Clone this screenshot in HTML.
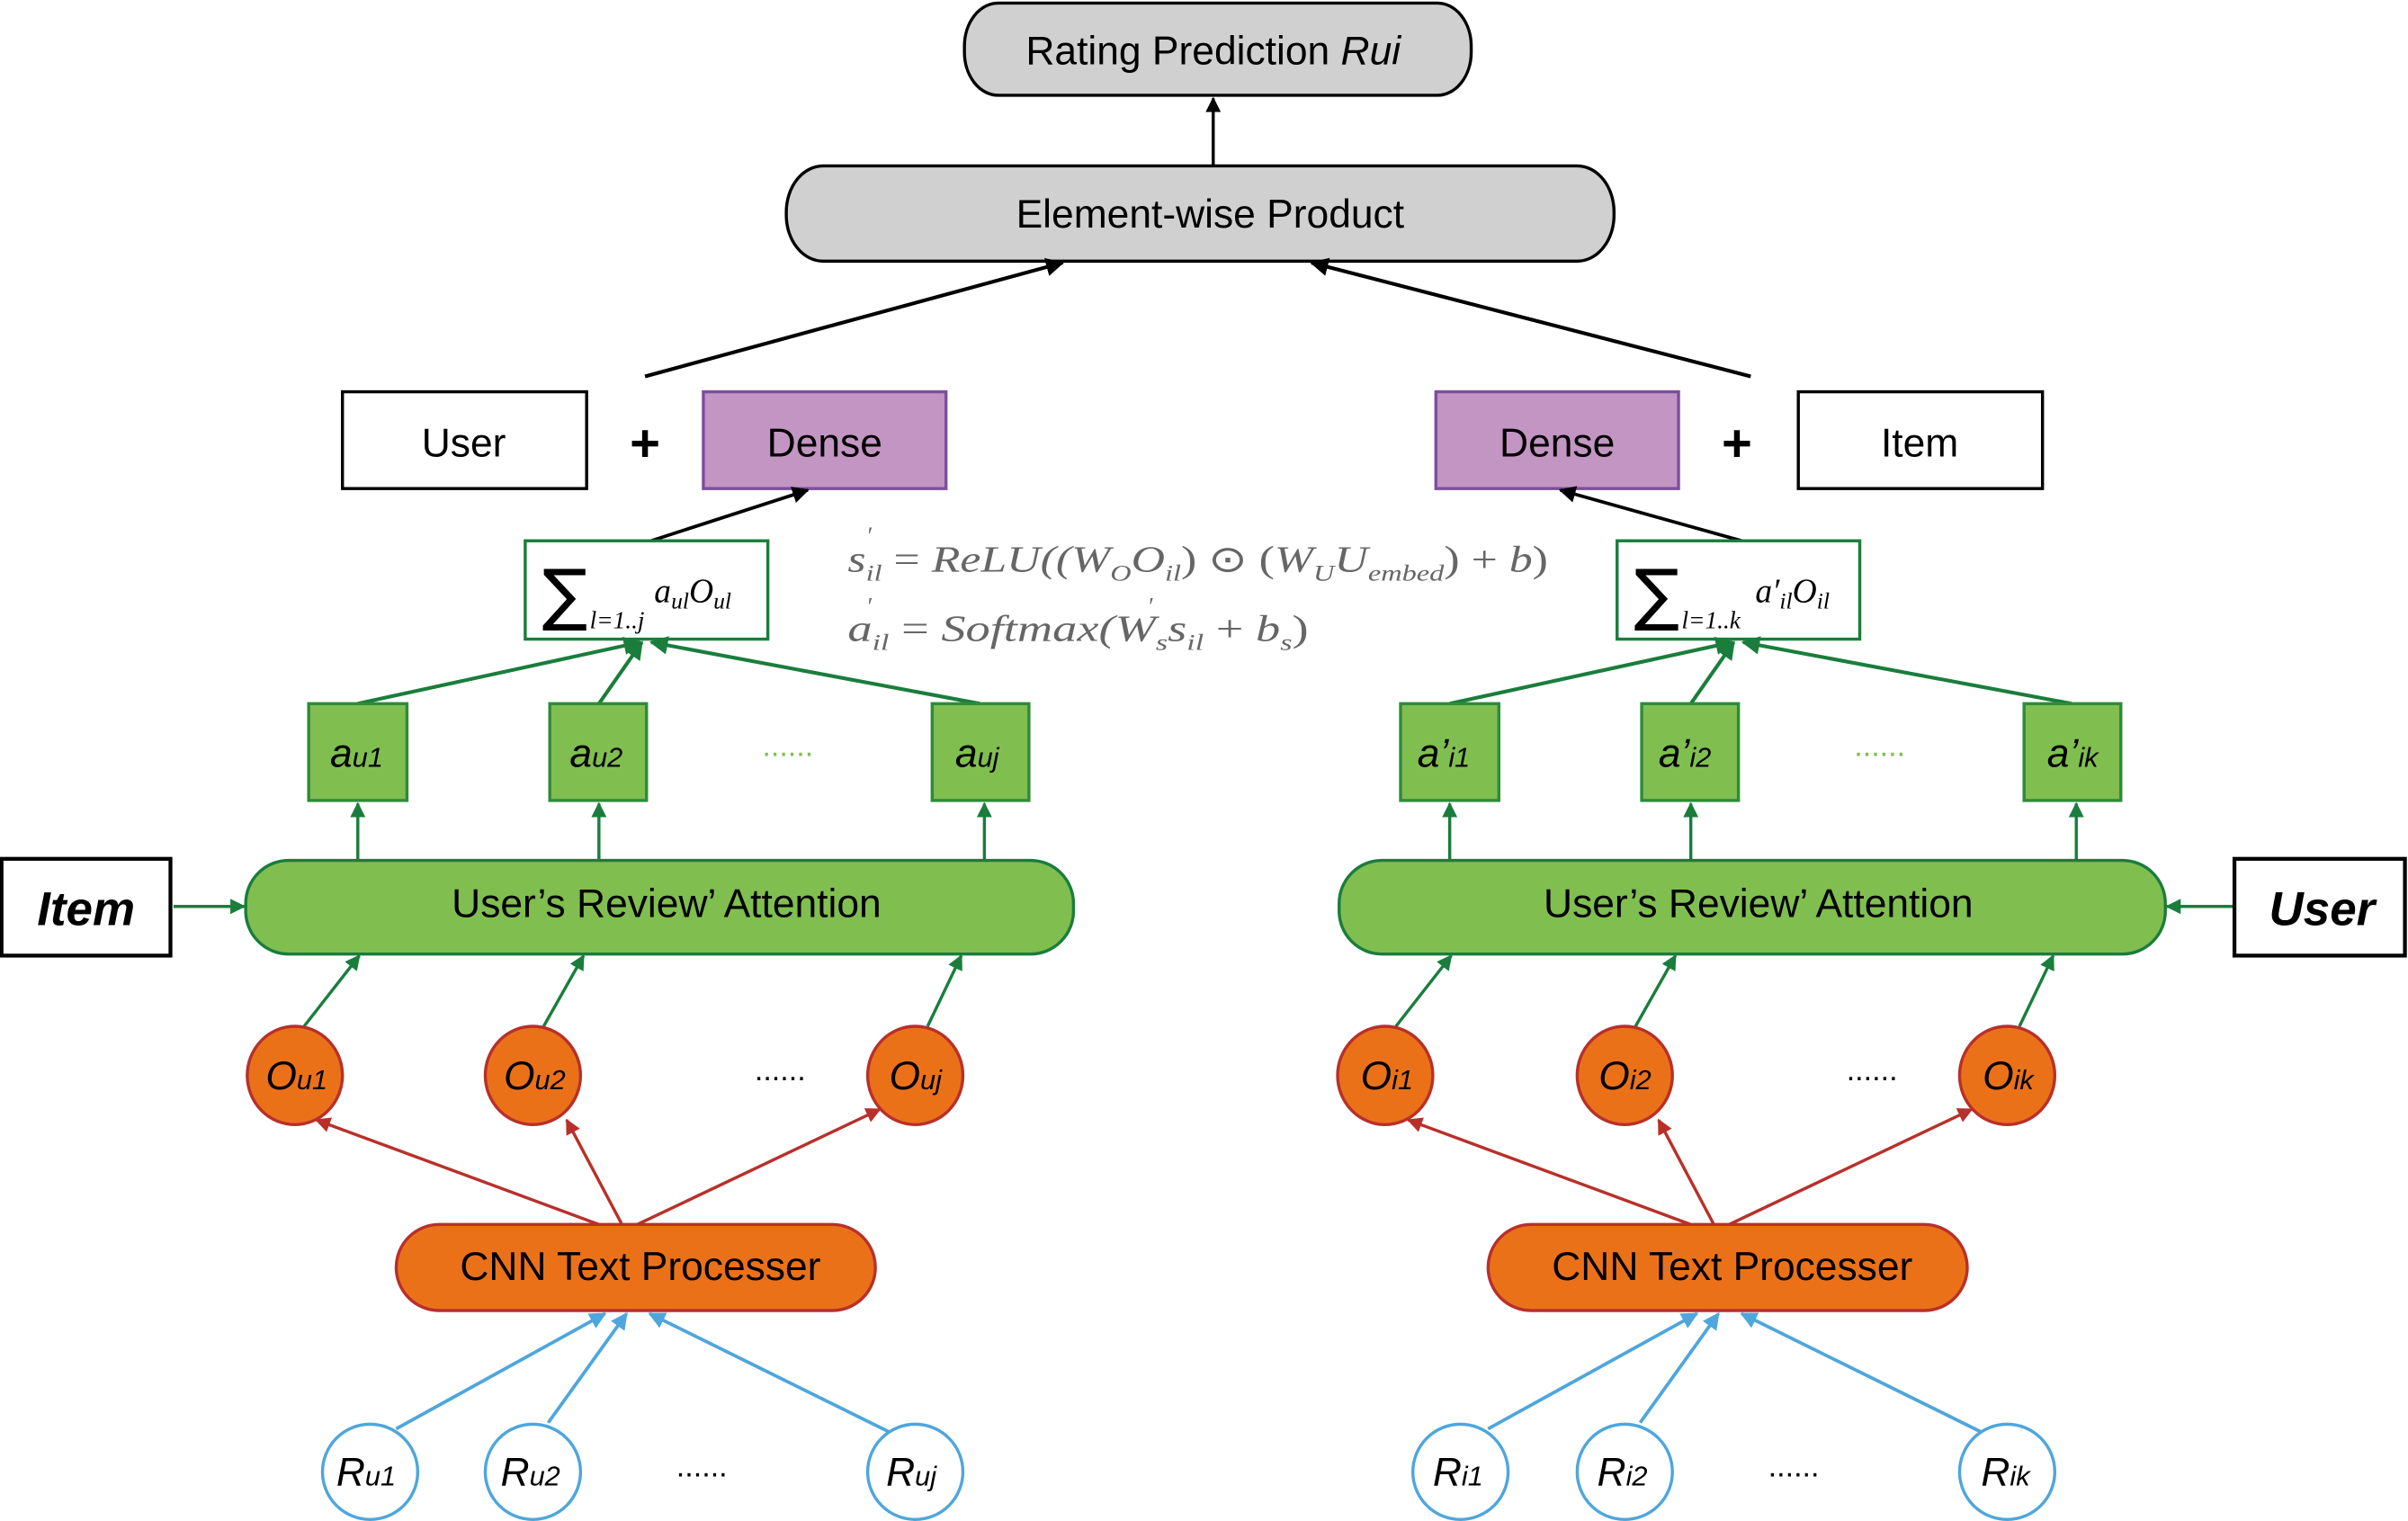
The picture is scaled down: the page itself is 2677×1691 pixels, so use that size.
<!DOCTYPE html>
<html><head><meta charset="utf-8"><style>
html,body{margin:0;padding:0;background:#fff;}
svg{display:block;}
text{font-family:"Liberation Sans",sans-serif;}
.m{font-family:"Liberation Serif",serif;font-style:italic;}
.sym{font-family:"DejaVu Sans",sans-serif;}
</style></head><body>
<svg width="2677" height="1691" viewBox="0 0 1568 990" preserveAspectRatio="none" xmlns="http://www.w3.org/2000/svg">
<defs>
<marker id="ak" viewBox="0 0 10 10" refX="9" refY="5" markerWidth="5" markerHeight="5" orient="auto"><path d="M0,0L10,5L0,10z" fill="#000"/></marker>
<marker id="ag" viewBox="0 0 10 10" refX="9" refY="5" markerWidth="5" markerHeight="5" orient="auto"><path d="M0,0L10,5L0,10z" fill="#1a7d3c"/></marker>
<marker id="ar" viewBox="0 0 10 10" refX="9" refY="5" markerWidth="5" markerHeight="5" orient="auto"><path d="M0,0L10,5L0,10z" fill="#b8302a"/></marker>
<marker id="ab" viewBox="0 0 10 10" refX="9" refY="5" markerWidth="5" markerHeight="5" orient="auto"><path d="M0,0L10,5L0,10z" fill="#4ea6dc"/></marker>
</defs>

<!-- top -->
<rect x="628" y="2" width="330" height="60" rx="22" ry="28" fill="#d0d0d0" stroke="#000" stroke-width="2"/>
<text x="790" y="42" font-size="26" text-anchor="middle">Rating Prediction <tspan font-style="italic">Rui</tspan></text>
<line x1="790" y1="108" x2="790" y2="64" stroke="#000" stroke-width="2" marker-end="url(#ak)"/>
<rect x="512" y="108" width="539" height="62" rx="24" ry="30" fill="#d0d0d0" stroke="#000" stroke-width="2"/>
<text x="788" y="148" font-size="26" text-anchor="middle">Element-wise Product</text>
<line x1="420" y1="245" x2="692" y2="171" stroke="#000" stroke-width="2.4" marker-end="url(#ak)"/>
<line x1="1140" y1="245" x2="854" y2="171" stroke="#000" stroke-width="2.4" marker-end="url(#ak)"/>

<!-- user/dense row -->
<rect x="223" y="255" width="159" height="63" fill="#fff" stroke="#000" stroke-width="2"/>
<text x="302" y="297" font-size="26" text-anchor="middle">User</text>
<text x="420" y="300" font-size="34" text-anchor="middle" font-weight="bold">+</text>
<rect x="458" y="255" width="158" height="63" fill="#c395c3" stroke="#7d4f9e" stroke-width="2"/>
<text x="537" y="297" font-size="26" text-anchor="middle">Dense</text>
<rect x="935" y="255" width="158" height="63" fill="#c395c3" stroke="#7d4f9e" stroke-width="2"/>
<text x="1014" y="297" font-size="26" text-anchor="middle">Dense</text>
<text x="1131" y="300" font-size="34" text-anchor="middle" font-weight="bold">+</text>
<rect x="1171" y="255" width="159" height="63" fill="#fff" stroke="#000" stroke-width="2"/>
<text x="1250" y="297" font-size="26" text-anchor="middle">Item</text>
<line x1="424" y1="352" x2="526" y2="319" stroke="#000" stroke-width="2.2" marker-end="url(#ak)"/>
<line x1="1134" y1="352" x2="1016" y2="319" stroke="#000" stroke-width="2.2" marker-end="url(#ak)"/>

<!-- formulas -->
<g fill="#666">
<text class="m" x="552" y="372" font-size="24" textLength="456" lengthAdjust="spacingAndGlyphs">s<tspan font-size="15" dy="6">il</tspan><tspan dy="-6" style="font-style:normal"> = </tspan>ReLU((W<tspan font-size="15" dy="6">O</tspan><tspan dy="-6">O</tspan><tspan font-size="15" dy="6">il</tspan><tspan dy="-6" style="font-style:normal">) ⊙ (</tspan>W<tspan font-size="15" dy="6">U</tspan><tspan dy="-6">U</tspan><tspan font-size="15" dy="6">embed</tspan><tspan dy="-6" style="font-style:normal">) + </tspan>b<tspan style="font-style:normal">)</tspan></text>
<text class="m" x="552" y="417" font-size="24" textLength="300" lengthAdjust="spacingAndGlyphs">a<tspan font-size="15" dy="6">il</tspan><tspan dy="-6" style="font-style:normal"> = </tspan>Softmax(W<tspan font-size="15" dy="6">s</tspan><tspan dy="-6">s</tspan><tspan font-size="15" dy="6">il</tspan><tspan dy="-6" style="font-style:normal"> + </tspan>b<tspan font-size="15" dy="6">s</tspan><tspan dy="-6" style="font-style:normal">)</tspan></text>
<text class="m" x="564" y="354" font-size="16">′</text>
<text class="m" x="564" y="400" font-size="16">′</text>
<text class="m" x="747" y="400" font-size="16">′</text>
</g>

<!-- LEFT side -->
<g>
<rect x="342" y="352" width="158" height="64" fill="#fff" stroke="#1a7d3c" stroke-width="2"/>
<text class="sym" x="353" y="402" font-size="44">∑</text>
<text class="m" x="384" y="409" font-size="16" style="font-style:italic">l=1..j</text>
<text class="m" x="426" y="392" font-size="22">a<tspan font-size="15" dy="4">ul</tspan><tspan dy="-4">O</tspan><tspan font-size="15" dy="4">ul</tspan></text>
<g stroke="#1a7d3c" stroke-width="2.4" fill="none">
<line x1="233" y1="458" x2="417" y2="418" marker-end="url(#ag)"/>
<line x1="390" y1="458" x2="418" y2="418" marker-end="url(#ag)"/>
<line x1="638" y1="458" x2="424" y2="418" marker-end="url(#ag)"/>
</g>
<g fill="#80be50" stroke="#2e8b3a" stroke-width="2">
<rect x="201" y="458" width="64" height="63"/><rect x="358" y="458" width="63" height="63"/><rect x="607" y="458" width="63" height="63"/>
</g>
<g font-size="26" font-style="italic">
<text x="215" y="499">a<tspan font-size="18">u1</tspan></text>
<text x="371" y="499">a<tspan font-size="18">u2</tspan></text>
<text x="622" y="499">a<tspan font-size="18">uj</tspan></text>
</g>
<text x="513" y="492" font-size="20" fill="#80be50" text-anchor="middle">......</text>
<g stroke="#1a7d3c" stroke-width="2">
<line x1="233" y1="560" x2="233" y2="523" marker-end="url(#ag)"/>
<line x1="390" y1="560" x2="390" y2="523" marker-end="url(#ag)"/>
<line x1="641" y1="560" x2="641" y2="523" marker-end="url(#ag)"/>
<line x1="113" y1="590" x2="159" y2="590" marker-end="url(#ag)"/>
<line x1="198" y1="668" x2="234" y2="622" marker-end="url(#ag)"/>
<line x1="354" y1="668" x2="380" y2="622" marker-end="url(#ag)"/>
<line x1="604" y1="668" x2="626" y2="622" marker-end="url(#ag)"/>
</g>
<rect x="160" y="560" width="539" height="61" rx="28" fill="#80be50" stroke="#1a7d3c" stroke-width="2"/>
<text x="434" y="597" font-size="26" text-anchor="middle">User’s Review’ Attention</text>
<rect x="1" y="559" width="110" height="63" fill="#fff" stroke="#000" stroke-width="2.5"/>
<text x="56" y="602" font-size="31" font-weight="bold" font-style="italic" text-anchor="middle">Item</text>
<g stroke="#b8302a" stroke-width="2">
<line x1="390" y1="797" x2="206" y2="729" marker-end="url(#ar)"/>
<line x1="405" y1="797" x2="369" y2="729" marker-end="url(#ar)"/>
<line x1="415" y1="797" x2="573" y2="722" marker-end="url(#ar)"/>
</g>
<g fill="#eb7119" stroke="#b8302a" stroke-width="2">
<ellipse cx="192" cy="700" rx="31" ry="32"/><ellipse cx="347" cy="700" rx="31" ry="32"/><ellipse cx="596" cy="700" rx="31" ry="32"/>
</g>
<g font-size="26" font-style="italic">
<text x="173" y="709">O<tspan font-size="18">u1</tspan></text>
<text x="328" y="709">O<tspan font-size="18">u2</tspan></text>
<text x="579" y="709">O<tspan font-size="18">uj</tspan></text>
</g>
<text x="508" y="703" font-size="20" text-anchor="middle">......</text>
<rect x="258" y="797" width="312" height="56" rx="28" fill="#eb7119" stroke="#b8302a" stroke-width="2"/>
<text x="417" y="833" font-size="26" text-anchor="middle">CNN Text Processer</text>
<g stroke="#4ea6dc" stroke-width="2.2">
<line x1="258" y1="930" x2="394" y2="855" marker-end="url(#ab)"/>
<line x1="357" y1="926" x2="408" y2="855" marker-end="url(#ab)"/>
<line x1="581" y1="933" x2="423" y2="855" marker-end="url(#ab)"/>
</g>
<g fill="#fff" stroke="#4ea6dc" stroke-width="2">
<ellipse cx="241" cy="958" rx="31" ry="31"/><ellipse cx="347" cy="958" rx="31" ry="31"/><ellipse cx="596" cy="958" rx="31" ry="31"/>
</g>
<g font-size="26" font-style="italic">
<text x="219" y="967">R<tspan font-size="18">u1</tspan></text>
<text x="326" y="967">R<tspan font-size="18">u2</tspan></text>
<text x="577" y="967">R<tspan font-size="18">uj</tspan></text>
</g>
<text x="457" y="961" font-size="20" text-anchor="middle">......</text>
</g>

<!-- RIGHT side -->
<g transform="translate(711,0)">
<rect x="342" y="352" width="158" height="64" fill="#fff" stroke="#1a7d3c" stroke-width="2"/>
<text class="sym" x="353" y="402" font-size="44">∑</text>
<text class="m" x="384" y="409" font-size="16">l=1..k</text>
<text class="m" x="432" y="392" font-size="22">a′<tspan font-size="15" dy="4">il</tspan><tspan dy="-4">O</tspan><tspan font-size="15" dy="4">il</tspan></text>
<g stroke="#1a7d3c" stroke-width="2.4" fill="none">
<line x1="233" y1="458" x2="417" y2="418" marker-end="url(#ag)"/>
<line x1="390" y1="458" x2="418" y2="418" marker-end="url(#ag)"/>
<line x1="638" y1="458" x2="424" y2="418" marker-end="url(#ag)"/>
</g>
<g fill="#80be50" stroke="#2e8b3a" stroke-width="2">
<rect x="201" y="458" width="64" height="63"/><rect x="358" y="458" width="63" height="63"/><rect x="607" y="458" width="63" height="63"/>
</g>
<g font-size="26" font-style="italic">
<text x="212" y="499">a’<tspan font-size="18">i1</tspan></text>
<text x="369" y="499">a’<tspan font-size="18">i2</tspan></text>
<text x="622" y="499">a’<tspan font-size="18">ik</tspan></text>
</g>
<text x="513" y="492" font-size="20" fill="#80be50" text-anchor="middle">......</text>
<g stroke="#1a7d3c" stroke-width="2">
<line x1="233" y1="560" x2="233" y2="523" marker-end="url(#ag)"/>
<line x1="390" y1="560" x2="390" y2="523" marker-end="url(#ag)"/>
<line x1="641" y1="560" x2="641" y2="523" marker-end="url(#ag)"/>
<line x1="744" y1="590" x2="700" y2="590" marker-end="url(#ag)"/>
<line x1="198" y1="668" x2="234" y2="622" marker-end="url(#ag)"/>
<line x1="354" y1="668" x2="380" y2="622" marker-end="url(#ag)"/>
<line x1="604" y1="668" x2="626" y2="622" marker-end="url(#ag)"/>
</g>
<rect x="161" y="560" width="538" height="61" rx="28" fill="#80be50" stroke="#1a7d3c" stroke-width="2"/>
<text x="434" y="597" font-size="26" text-anchor="middle">User’s Review’ Attention</text>
<rect x="744" y="559" width="111" height="63" fill="#fff" stroke="#000" stroke-width="2.5"/>
<text x="801" y="602" font-size="31" font-weight="bold" font-style="italic" text-anchor="middle">User</text>
<g stroke="#b8302a" stroke-width="2">
<line x1="390" y1="797" x2="206" y2="729" marker-end="url(#ar)"/>
<line x1="405" y1="797" x2="369" y2="729" marker-end="url(#ar)"/>
<line x1="415" y1="797" x2="573" y2="722" marker-end="url(#ar)"/>
</g>
<g fill="#eb7119" stroke="#b8302a" stroke-width="2">
<ellipse cx="191" cy="700" rx="31" ry="32"/><ellipse cx="347" cy="700" rx="31" ry="32"/><ellipse cx="596" cy="700" rx="31" ry="32"/>
</g>
<g font-size="26" font-style="italic">
<text x="175" y="709">O<tspan font-size="18">i1</tspan></text>
<text x="330" y="709">O<tspan font-size="18">i2</tspan></text>
<text x="580" y="709">O<tspan font-size="18">ik</tspan></text>
</g>
<text x="508" y="703" font-size="20" text-anchor="middle">......</text>
<rect x="258" y="797" width="312" height="56" rx="28" fill="#eb7119" stroke="#b8302a" stroke-width="2"/>
<text x="417" y="833" font-size="26" text-anchor="middle">CNN Text Processer</text>
<g stroke="#4ea6dc" stroke-width="2.2">
<line x1="258" y1="930" x2="394" y2="855" marker-end="url(#ab)"/>
<line x1="357" y1="926" x2="408" y2="855" marker-end="url(#ab)"/>
<line x1="581" y1="933" x2="423" y2="855" marker-end="url(#ab)"/>
</g>
<g fill="#fff" stroke="#4ea6dc" stroke-width="2">
<ellipse cx="240" cy="958" rx="31" ry="31"/><ellipse cx="347" cy="958" rx="31" ry="31"/><ellipse cx="596" cy="958" rx="31" ry="31"/>
</g>
<g font-size="26" font-style="italic">
<text x="222" y="967">R<tspan font-size="18">i1</tspan></text>
<text x="329" y="967">R<tspan font-size="18">i2</tspan></text>
<text x="579" y="967">R<tspan font-size="18">ik</tspan></text>
</g>
<text x="457" y="961" font-size="20" text-anchor="middle">......</text>
</g>
</svg>
</body></html>
